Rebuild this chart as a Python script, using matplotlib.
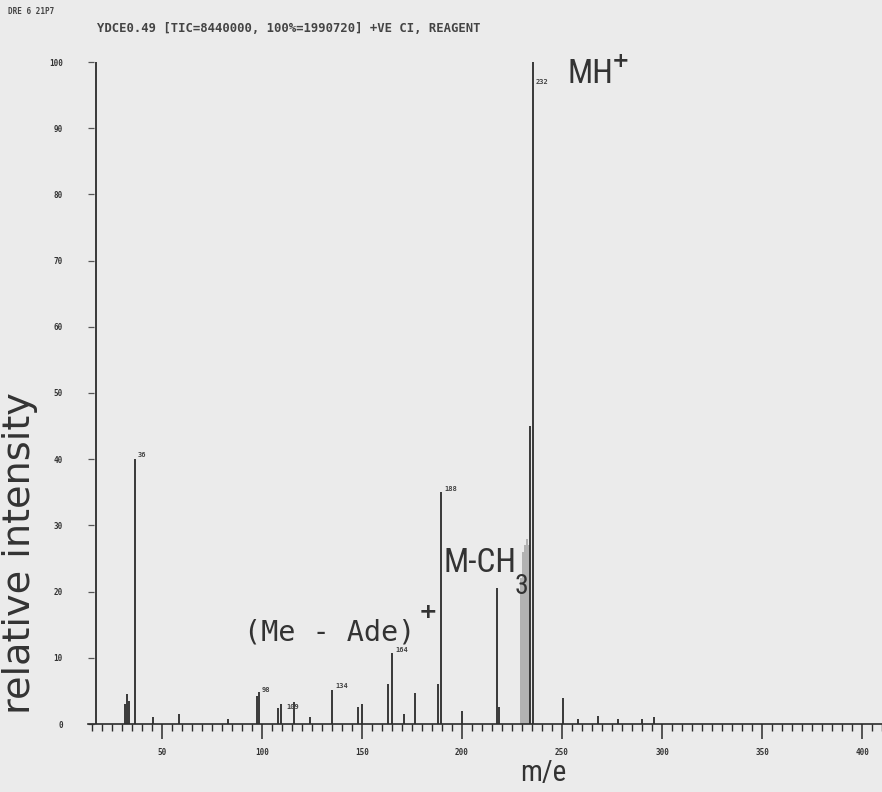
import matplotlib
matplotlib.use("Agg")
import matplotlib.pyplot as plt
from matplotlib.ticker import MultipleLocator

# ---- data ----
peak_mz = [17, 31.5, 32.5, 33.5, 36.5, 45.5, 58.5, 83, 97.5, 98.5, 108, 109.5, 116,
           124, 135, 148, 150, 163, 165, 171, 176.5, 188, 189.5, 200, 217.5, 218.5,
           234.2, 235.5, 250.5, 258, 268, 278, 290, 296]
peak_int = [100, 3.0, 4.5, 3.5, 40, 1.0, 1.5, 0.8, 4.2, 4.8, 2.4, 3.0, 3.3,
            1.0, 5.2, 2.5, 3.0, 6.0, 10.8, 1.5, 4.7, 6.0, 35, 2.0, 20.5, 2.5,
            45, 100, 4.0, 0.8, 1.2, 0.8, 0.8, 1.0]
broad_mz = [229.5, 230.5, 231.5, 232.5, 233.5]
broad_int = [22, 26, 27, 28, 27]
label_mz = [36.5, 98.5, 110.5, 135, 165, 189.5, 235.5]
label_int = [40, 4.8, 2.5, 5.2, 10.8, 35, 100]
label_txt = ["36", "98", "109", "134", "164", "188", "232"]
label_dy = [4, 2, 0, 4, 3, 3, -20]
xticks = [50, 100, 150, 200, 250, 300, 350, 400]
yticks = [0, 10, 20, 30, 40, 50, 60, 70, 80, 90, 100]

W, H = 882, 792
bg = "#ebebeb"
ink = "#2b2b2b"
txt = "#333333"
fig = plt.figure(figsize=(W / 100, H / 100), dpi=100, facecolor=bg)
ax = fig.add_axes([88 / W, (H - 724) / H, (882 - 88) / W, (724 - 62) / H], facecolor=bg)

ax.bar(broad_mz, broad_int, width=1.0, color="#8c8c8c", alpha=0.6, linewidth=0)
ax.vlines(peak_mz, 0, peak_int, color=ink, linewidth=1.3)

for m, h, t, dy in zip(label_mz, label_int, label_txt, label_dy):
    ax.annotate(t, (m, h), xytext=(3, dy), textcoords="offset pixels",
                fontsize=5, fontweight="bold", color="#444444", ha="left", va="center",
                family="DejaVu Sans Mono")

ax.set_xlim(13, 410)
ax.set_ylim(0, 100)
for s in ["top", "right", "left"]:
    ax.spines[s].set_visible(False)
ax.spines["bottom"].set_color(ink)
ax.spines["bottom"].set_linewidth(1.2)

ax.set_xticks(xticks)
ax.xaxis.set_minor_locator(MultipleLocator(5))
ax.tick_params(axis="x", which="major", direction="out", length=11, width=1.1,
               color=ink, labelsize=5.5, pad=6, labelcolor=txt)
ax.tick_params(axis="x", which="minor", direction="out", length=5, width=1.0, color=ink)
ax.set_yticks(yticks)
ax.tick_params(axis="y", direction="in", length=4, width=0.9, color="#555555",
               labelsize=5.5, pad=18, labelcolor=txt)
for lab in ax.get_xticklabels() + ax.get_yticklabels():
    lab.set_fontweight("bold")
    lab.set_family("DejaVu Sans Mono")

narrow = ["Roboto Condensed", "DejaVu Sans"]
fig.text(20 / W, 1 - 553 / H, "relative intensity", rotation=90, ha="center", va="center",
         fontsize=27.5, color=txt, family="DejaVu Sans")
fig.text(543 / W, 1 - 773 / H, "m/e", ha="center", va="center", fontsize=21,
         color=txt, family=narrow, fontstretch="condensed")
fig.text(244 / W, 1 - 633 / H, "(Me - Ade)", ha="left", va="center",
         fontsize=20.5, color=txt, family="DejaVu Sans Mono")
fig.text(419 / W, 1 - 612 / H, "+", ha="left", va="center",
         fontsize=16, fontweight="bold", color=txt, family="DejaVu Sans")
fig.text(443 / W, 1 - 563 / H, "M-CH", ha="left", va="center", fontsize=24,
         color=txt, family=narrow, fontstretch="condensed")
fig.text(515 / W, 1 - 587 / H, "3", ha="left", va="center", fontsize=20,
         color=txt, family=narrow, fontstretch="condensed")
fig.text(568 / W, 1 - 74 / H, "MH", ha="left", va="center", fontsize=24,
         color=txt, family=narrow, fontstretch="condensed")
fig.text(612 / W, 1 - 61 / H, "+", ha="left", va="center", fontsize=15,
         fontweight="bold", color=txt, family="DejaVu Sans")

fig.text(8 / W, 1 - 11 / H, "DRE 6 21P7", ha="left", va="center", fontsize=5.5,
         fontweight="bold", color="#444444", family="DejaVu Sans Mono")
fig.text(97 / W, 1 - 29 / H, "YDCE0.49 [TIC=8440000, 100%=1990720] +VE CI, REAGENT",
         ha="left", va="center", fontsize=8.8, fontweight="bold", color="#444444",
         family="DejaVu Sans Mono")

fig.savefig("out.png", dpi=100, facecolor=bg)
